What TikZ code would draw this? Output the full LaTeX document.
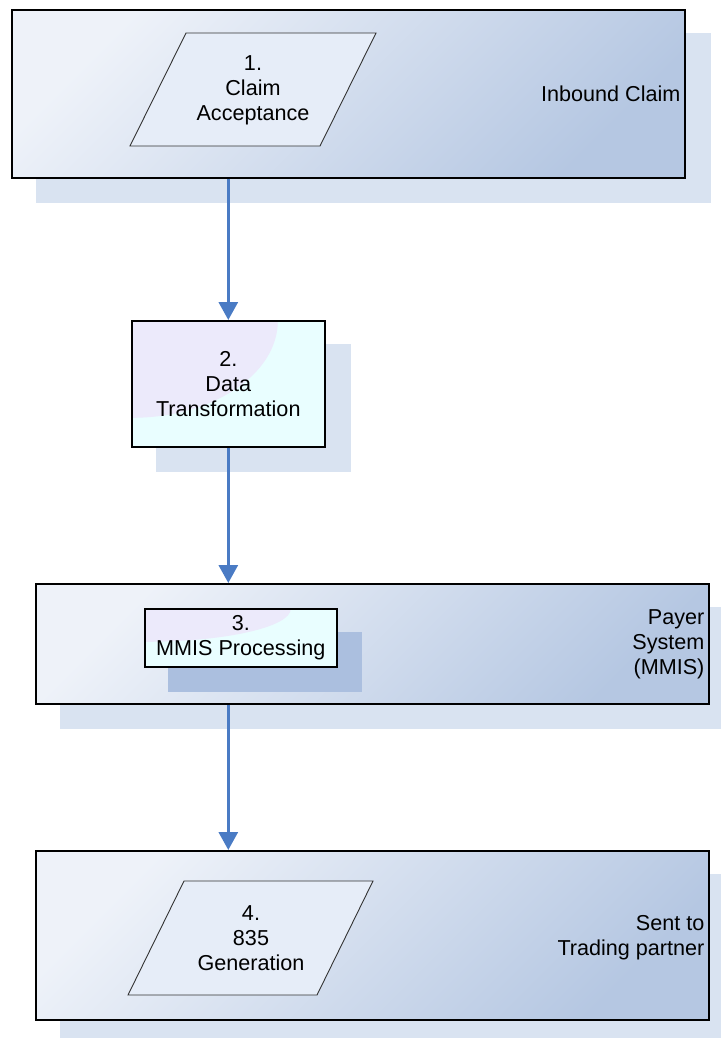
\documentclass[tikz,border=0pt]{standalone}
\usepackage{fontspec}
\setmainfont{Liberation Sans}
\usetikzlibrary{arrows.meta}
\pgfdeclarelayer{back}
\pgfdeclarelayer{lanes}
\pgfdeclarelayer{mid}
\pgfsetlayers{back,lanes,mid,main}

\definecolor{laneA}{HTML}{EEF2F9}
\definecolor{laneB}{HTML}{C0CFE6}
\definecolor{laneC}{HTML}{B5C7E2}
\definecolor{shadowc}{HTML}{D9E3F1}
\definecolor{shadowdk}{HTML}{ABBFDF}
\definecolor{parafill}{HTML}{E6EDF8}
\definecolor{cyanfill}{HTML}{E9FEFF}
\definecolor{lavfill}{HTML}{ECEAFB}
\definecolor{flowc}{HTML}{4A7BC4}

\tikzset{
  txt/.style={font=\fontsize{21.6}{25}\selectfont, align=center, inner sep=0pt},
  lane/.style={draw=black, line width=1.6pt, anchor=north west,
    top color=laneA, middle color=laneB, bottom color=laneC, shading angle=45},
  lanelbl/.style={txt, align=right, anchor=east},
  para/.style={draw=black!80, line width=0.9pt, fill=parafill},
  procbox/.style={draw=black, line width=1.6pt, anchor=north west, fill=cyanfill},
  flow/.style={draw=flowc, line width=3pt,
    -{Triangle[width=19pt,length=18pt]}},
}

\begin{document}
\begin{tikzpicture}[x=1pt, y=-1pt]
\useasboundingbox (0,0) rectangle (720,1038);
\clip (0,0) rectangle (720,1038);

% swim lanes
\begin{pgfonlayer}{lanes}
  \node[lane, minimum width=673, minimum height=168] (b1) at (11,9) {};
  \node[lane, minimum width=673, minimum height=120] (b3) at (35,583) {};
  \node[lane, minimum width=673, minimum height=169] (b4) at (35,850) {};
\end{pgfonlayer}

% process box 2 with its radial tint
\node[procbox, minimum width=193, minimum height=126,
  path picture={\fill[lavfill] (path picture bounding box.north west)
    ellipse [x radius=146pt, y radius=97pt];}] (b2) at (131,320) {};
\node[txt] (t2) at (b2.center) {2.\\Data\\Transformation};

% process box 3 inside the payer lane
\node[procbox, minimum width=192, minimum height=58,
  path picture={\fill[lavfill] (path picture bounding box.north west)
    ellipse [x radius=146pt, y radius=33pt];}] (b3i) at (144,608) {};
\node[txt] (t3) at (b3i.center) {3.\\MMIS Processing};

% shadows
\begin{pgfonlayer}{back}
  \foreach \n in {b1,b2,b3,b4}
    \fill[shadowc] ([shift={(25,24)}]\n.south west) rectangle ([shift={(25,24)}]\n.north east);
\end{pgfonlayer}
\begin{pgfonlayer}{mid}
  \fill[shadowdk] ([shift={(24,24)}]b3i.south west) rectangle ([shift={(24,24)}]b3i.north east);
\end{pgfonlayer}

% lane labels
\node[lanelbl] (l1) at ([xshift=-5]b1.east) {Inbound Claim};
\node[lanelbl] (l3) at ([xshift=-5]b3.east) {Payer\\System\\(MMIS)};
\node[lanelbl] (l4) at ([xshift=-5,yshift=-2]b4.east) {Sent to\\Trading partner};

% input / output steps
\draw[para] (186,33) -- (376,33) -- (320,146) -- (130,146) -- cycle;
\node[txt] (p1) at (253,90) {1.\\Claim\\Acceptance};
\draw[para] (184,881) -- (373,881) -- (317,995) -- (128,995) -- cycle;
\node[txt] (p4) at (251,938) {4.\\835\\Generation};

% flow
\draw[flow] (b1.south -| b2.north) -- (b2.north);
\draw[flow] (b2.south) -- (b2.south |- b3.north);
\draw[flow] (b3.south -| b2.south) -- (b4.north -| b2.south);
\end{tikzpicture}
\end{document}
